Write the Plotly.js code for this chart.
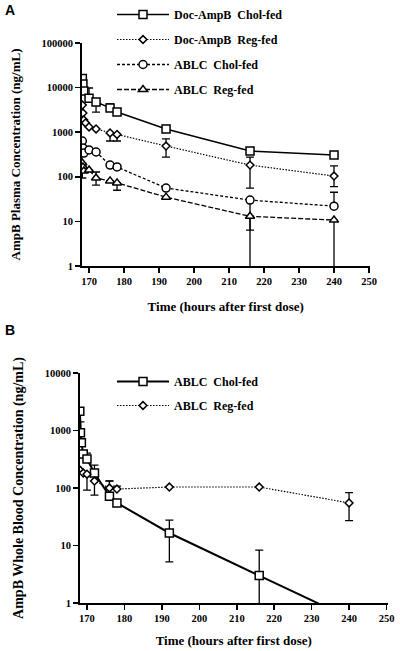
<!DOCTYPE html>
<html><head><meta charset="utf-8">
<script src="https://cdn.plot.ly/plotly-3.0.1.min.js"></script>
<style>html,body{margin:0;padding:0;background:#fff}#chart{width:400px;height:651px}</style>
</head><body><div id="chart"></div>
<script>
// ---------- Panel A: plasma ----------
const tA_docChol = [168.083, 168.25, 168.5, 170, 172, 176, 178, 192, 216, 240];
const vA_docChol = [16000, 12000, 8400, 5800, 4750, 3500, 2830, 1180, 380, 308];
const epA_docChol = [0, 0, 0, 4000, 0, 800, 0, 0, 0, 0];
const emA_docChol = [0, 0, 0, 0, 1920, 0, 0, 0, 0, 0];

const tA_docReg = [168.083, 168.25, 168.5, 169, 170, 172, 176, 178, 192, 216, 240];
const vA_docReg = [4070, 2690, 1880, 1610, 1310, 1180, 960, 890, 490, 183, 104];
const epA_docReg = [0, 0, 0, 0, 0, 0, 0, 0, 217, 94, 71];
const emA_docReg = [0, 0, 0, 0, 0, 0, 325, 255, 213, 127, 44];

const tA_ablcChol = [168.083, 168.25, 168.5, 170, 172, 176, 178, 192, 216, 240];
const vA_ablcChol = [635, 445, 340, 400, 360, 183, 166, 56, 30, 22];
const epA_ablcChol = [0, 0, 0, 0, 0, 0, 0, 0, 0, 23];
const emA_ablcChol = [0, 0, 0, 0, 0, 0, 0, 0, 23.6, 0];

const tA_ablcReg = [168.083, 168.25, 168.5, 170, 172, 176, 178, 192, 216, 240];
const vA_ablcReg = [204, 166, 135, 142, 94, 81, 73, 35, 13, 10.7];
const epA_ablcReg = [0, 0, 0, 0, 34, 0, 0, 0, 0, 0];
const emA_ablcReg = [110, 0, 0, 0, 29, 0, 23, 0, 13, 10.7];

// ---------- Panel B: whole blood ----------
const tB_chol = [168.083, 168.25, 168.5, 169, 170, 172, 176, 178, 192, 216, 240];
const vB_chol = [2160, 910, 610, 390, 320, 182, 72, 55, 16.5, 3.0, 0.55];
const epB_chol = [0, 500, 0, 0, 85, 68, 60, 0, 11.2, 5.3, 0];
const emB_chol = [0, 0, 0, 0, 0, 0, 0, 0, 11.3, 3.0, 0];

const tB_reg = [168.083, 169, 170, 172, 176, 178, 192, 216, 240];
const vB_reg = [205, 182, 174, 132, 100, 96, 104, 104, 55];
const epB_reg = [0, 0, 0, 0, 33, 12, 0, 0, 28];
const emB_reg = [0, 0, 82, 57, 0, 0, 0, 0, 28];

const namesA = ['Doc-AmpB\u00a0\u00a0Chol-fed', 'Doc-AmpB\u00a0\u00a0Reg-fed', 'ABLC\u00a0\u00a0Chol-fed', 'ABLC\u00a0\u00a0Reg-fed'];
const namesB = ['ABLC\u00a0\u00a0Chol-fed', 'ABLC\u00a0\u00a0Reg-fed'];

const xTicks = [170, 180, 190, 200, 210, 220, 230, 240, 250];
const yTicksA = [1, 10, 100, 1000, 10000, 100000];
const yTickTextA = ['1', '10', '100', '1000', '10000', '100000'];
const yTicksB = [1, 10, 100, 1000, 10000];
const yTickTextB = ['1', '10', '100', '1000', '10000'];

const W = 400, H = 651;
const serif = 'Liberation Serif, Times New Roman, serif';

function err(p, m) {
  return {type: 'data', symmetric: false, array: p, arrayminus: m, color: '#000', thickness: 1.3, width: 4};
}
function tr(x, y, ep, em, name, dash, sym, size, lw, xa, ya, leg, grp) {
  return {
    x: x, y: y, name: name, type: 'scatter', mode: 'lines+markers',
    xaxis: xa, yaxis: ya, legend: leg, legendgroup: grp,
    line: {color: '#000', width: lw, dash: dash},
    marker: {symbol: sym, size: size, color: '#fff', line: {color: '#000', width: 1.5}},
    error_y: err(ep, em), cliponaxis: true
  };
}

const data = [
  tr(tA_docChol, vA_docChol, epA_docChol, emA_docChol, namesA[0], 'solid', 'square', 8, 1.5, 'x', 'y', 'legend', 'a1'),
  tr(tA_docReg, vA_docReg, epA_docReg, emA_docReg, namesA[1], '1.5px,1.5px', 'diamond', 6, 1.2, 'x', 'y', 'legend', 'a2'),
  tr(tA_ablcChol, vA_ablcChol, epA_ablcChol, emA_ablcChol, namesA[2], '3px,2px', 'circle', 8, 1.3, 'x', 'y', 'legend', 'a3'),
  tr(tA_ablcReg, vA_ablcReg, epA_ablcReg, emA_ablcReg, namesA[3], '5px,2px', 'triangle-up', 8, 1.3, 'x', 'y', 'legend', 'a4'),
  tr(tB_chol, vB_chol, epB_chol, emB_chol, namesB[0], 'solid', 'square', 8, 2, 'x2', 'y2', 'legend2', 'b1'),
  tr(tB_reg, vB_reg, epB_reg, emB_reg, namesB[1], '1.5px,1.5px', 'diamond', 6, 1.2, 'x2', 'y2', 'legend2', 'b2')
];

const tickFont = {family: serif, size: 10.5, color: '#000', weight: 'bold'};
function xax(domain, range, anchor, standoff) {
  return {
    domain: domain, range: range, anchor: anchor, type: 'linear',
    tickvals: xTicks, ticktext: xTicks.map(String),
    showgrid: false, zeroline: false, showline: true, linecolor: '#000', linewidth: 1.5,
    ticks: 'outside', ticklen: 5, tickwidth: 1.5, tickcolor: '#000', tickfont: tickFont,
    title: {text: 'Time (hours after first dose)', font: {family: serif, size: 13, color: '#000', weight: 'bold'}, standoff: standoff},
    automargin: false, fixedrange: true
  };
}
function yax(domain, range, anchor, vals, txt, title, tsize) {
  return {
    domain: domain, range: range, anchor: anchor, type: 'log',
    tickvals: vals, ticktext: txt,
    showgrid: false, zeroline: false, showline: true, linecolor: '#000', linewidth: 1.5,
    ticks: 'outside', ticklen: 5, tickwidth: 1.5, tickcolor: '#000', tickfont: tickFont,
    title: {text: title, font: {family: serif, size: tsize, color: '#000', weight: 'bold'}, standoff: 18},
    automargin: false, fixedrange: true
  };
}

const layout = {
  width: W, height: H, margin: {l: 0, r: 0, t: 0, b: 0},
  paper_bgcolor: '#fff', plot_bgcolor: 'rgba(0,0,0,0)',
  font: {family: serif, color: '#000'},
  xaxis: xax([81.7 / W, 369.7 / W], [167.9, 250.2], 'y', 16),
  yaxis: yax([1 - 266 / H, 1 - 43 / H], [0, 5], 'x', yTicksA, yTickTextA, 'AmpB Plasma Concentration (ng/mL)', 13),
  xaxis2: xax([79.5 / W, 388 / W], [168, 250.4], 'y2', 13),
  yaxis2: yax([1 - 603 / H, 1 - 373 / H], [0, 4], 'x2', yTicksB, yTickTextB, 'AmpB Whole Blood Concentration (ng/mL)', 14),
  showlegend: true,
  legend: {x: 112 / W, y: 1, xanchor: 'left', yanchor: 'top', bgcolor: 'rgba(0,0,0,0)',
    font: {family: serif, size: 12, color: '#000', weight: 'bold'}, itemwidth: 52, tracegroupgap: 6, traceorder: 'grouped'},
  legend2: {x: 112 / W, y: 1 - 367 / H, xanchor: 'left', yanchor: 'top', bgcolor: 'rgba(0,0,0,0)',
    font: {family: serif, size: 12, color: '#000', weight: 'bold'}, itemwidth: 52, tracegroupgap: 5, traceorder: 'grouped'},
  annotations: [
    {text: 'A', xref: 'paper', yref: 'paper', x: 10 / W, y: 1 - 10 / H, xanchor: 'center', yanchor: 'middle', showarrow: false,
     font: {family: 'Liberation Sans, Arial, sans-serif', size: 14, color: '#000', weight: 'bold'}},
    {text: 'B', xref: 'paper', yref: 'paper', x: 10 / W, y: 1 - 330 / H, xanchor: 'center', yanchor: 'middle', showarrow: false,
     font: {family: 'Liberation Sans, Arial, sans-serif', size: 14, color: '#000', weight: 'bold'}}
  ]
};

Plotly.newPlot('chart', data, layout, {staticPlot: true, displayModeBar: false});
</script>
</body></html>
